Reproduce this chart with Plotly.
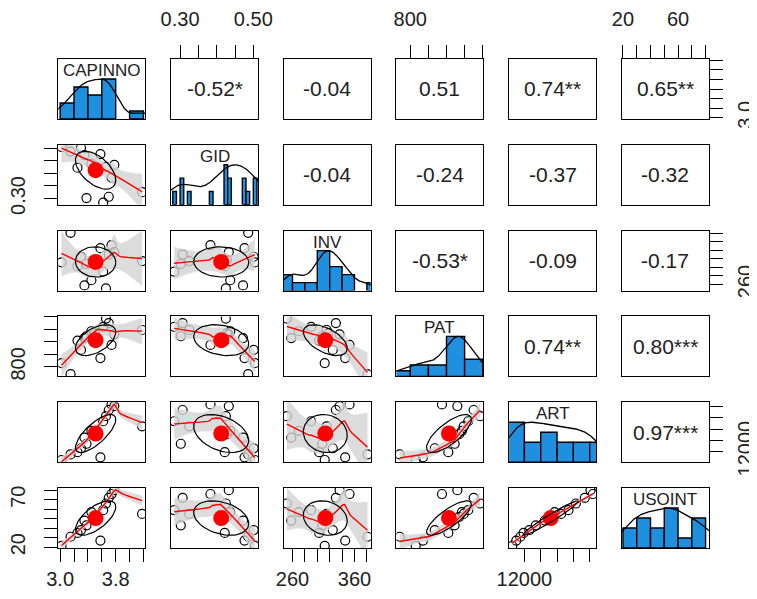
import numpy as np
import plotly.graph_objects as go

names = ["CAPINNO", "GID", "INV", "PAT", "ART", "USOINT"]
CAPINNO = [3.02, 3.58, 3.15, 3.25, 3.30, 3.38, 3.35, 3.50, 3.45, 4.18, 3.62, 3.66, 3.70, 3.78, 3.74]
GID = [0.504, 0.476, 0.486, 0.422, 0.501, 0.302, 0.472, 0.428, 0.437, 0.325, 0.284, 0.425, 0.307, 0.433, 0.383]
INV = [312, 345, 381, 303, 325, 308, 258, 318, 270, 315, 290, 251, 330, 336, 352]
PAT = [830, 870, 741, 1010, 935, 1045, 1030, 1070, 1085, 1095, 1120, 1186, 1150, 1060, 975]
ART = [10520, 11000, 11500, 11900, 12600, 13400, 14500, 15100, 15700, 16500, 17400, 18300, 19400, 20100, 20390]
USOINT = [21.5, 27, 31, 35, 38, 43, 48, 52, 57, 55, 59, 66, 72, 80, 76]

# correlations printed in the upper panels (row variable, column variable)
cor_pairs = [("CAPINNO", "GID"), ("CAPINNO", "INV"), ("CAPINNO", "PAT"), ("CAPINNO", "ART"), ("CAPINNO", "USOINT"),
             ("GID", "INV"), ("GID", "PAT"), ("GID", "ART"), ("GID", "USOINT"),
             ("INV", "PAT"), ("INV", "ART"), ("INV", "USOINT"),
             ("PAT", "ART"), ("PAT", "USOINT"),
             ("ART", "USOINT")]
cor_values = [-0.52, -0.04, 0.51, 0.74, 0.65,
              -0.04, -0.24, -0.37, -0.32,
              -0.53, -0.09, -0.17,
              0.74, 0.80,
              0.97]
cor_stars = ["*", "", "", "**", "**",
             "", "", "", "",
             "*", "", "",
             "**", "***",
             "***"]

# histogram bins and counts on the diagonal
hist_edges = {
    "CAPINNO": [3.0, 3.2, 3.4, 3.6, 3.8, 4.0, 4.2],
    "GID": [0.28, 0.29, 0.30, 0.31, 0.32, 0.33, 0.34, 0.35, 0.36, 0.37, 0.38, 0.39, 0.40,
            0.41, 0.42, 0.43, 0.44, 0.45, 0.46, 0.47, 0.48, 0.49, 0.50, 0.51],
    "INV": [240, 260, 280, 300, 320, 340, 360, 380, 400],
    "PAT": [700, 800, 900, 1000, 1100, 1200],
    "ART": [10000, 12000, 14000, 16000, 18000, 20000, 22000],
    "USOINT": [20, 30, 40, 50, 60, 70, 80],
}
hist_counts = {
    "CAPINNO": [2, 4, 3, 5, 0, 1],
    "GID": [1, 0, 2, 0, 1, 0, 0, 0, 0, 0, 1, 0, 0, 0, 3, 2, 0, 0, 0, 2, 1, 0, 2],
    "INV": [2, 1, 1, 5, 3, 2, 0, 1],
    "PAT": [1, 2, 2, 7, 3],
    "ART": [4, 2, 3, 2, 2, 2],
    "USOINT": [2, 3, 2, 4, 1, 3],
}

# axis ticks and the labels that are visible
tick_vals = {
    "CAPINNO": [3.0, 3.2, 3.4, 3.6, 3.8, 4.0, 4.2],
    "GID": [0.30, 0.35, 0.40, 0.45, 0.50],
    "INV": [260, 280, 300, 320, 340, 360, 380],
    "PAT": [800, 900, 1000, 1100, 1200],
    "ART": [12000, 14000, 16000, 18000, 20000],
    "USOINT": [20, 30, 40, 50, 60, 70, 80],
}
tick_text_h = {
    "CAPINNO": ["3.0", "", "", "", "3.8", "", ""],
    "GID": ["0.30", "", "", "", "0.50"],
    "INV": ["260", "", "", "", "", "360", ""],
    "PAT": ["800", "", "", "", ""],
    "ART": ["12000", "", "", "", ""],
    "USOINT": ["20", "", "", "", "60", "", ""],
}
tick_text_v = {
    "CAPINNO": ["3.0", "", "", "", "", "", ""],
    "GID": ["0.30", "", "", "", ""],
    "INV": ["260", "", "", "", "", "", ""],
    "PAT": ["800", "", "", "", ""],
    "ART": ["12000", "", "", "", ""],
    "USOINT": ["20", "", "", "", "", "70", ""],
}

# ---------------- helpers -------------------------------------------------
data = {"CAPINNO": CAPINNO, "GID": GID, "INV": INV, "PAT": PAT, "ART": ART, "USOINT": USOINT}
cor_lookup = {}
for (a, b), r, s in zip(cor_pairs, cor_values, cor_stars):
    cor_lookup[(a, b)] = (r, s)
    cor_lookup[(b, a)] = (r, s)


def var_range(v):
    v = np.asarray(v, float)
    lo, hi = v.min(), v.max()
    d = hi - lo
    return [lo - 0.04 * d, hi + 0.04 * d]


def loess(x, y, xnew, span=0.75, iterations=4):
    x = np.asarray(x, float)
    y = np.asarray(y, float)
    n = len(x)
    q = int(np.floor(n * span))

    def row(x0, rw):
        d = np.abs(x - x0)
        h = np.sort(d)[q - 1] * 1.0000001
        if h <= 0:
            h = 1e-9
        u = d / h
        w = np.where(u < 1, (1 - u ** 3) ** 3, 0.0) * rw
        X = np.column_stack([np.ones(n), x - x0])
        XtW = X.T * w
        A = XtW @ X + 1e-10 * np.eye(2)
        return np.linalg.solve(A, XtW)[0]

    rw = np.ones(n)
    L = None
    res = None
    for it in range(iterations):
        L = np.array([row(xi, rw) for xi in x])
        res = y - L @ y
        if it < iterations - 1:
            s = np.median(np.abs(res))
            if s <= 0:
                break
            u = res / (6 * s)
            rw = np.where(np.abs(u) < 1, (1 - u ** 2) ** 2, 0.0)
    Ln = np.array([row(x0, rw) for x0 in xnew])
    fit = Ln @ y
    dfres = max(n - np.trace(L), 1.0)
    sigma = np.sqrt(np.sum(rw * res ** 2) / dfres)
    se = sigma * np.sqrt(np.sum(Ln ** 2, axis=1))
    return fit, se


def kde(v):
    v = np.asarray(v, float)
    n = len(v)
    sd = v.std(ddof=1)
    q75, q25 = np.percentile(v, [75, 25])
    bw = 0.9 * min(sd, (q75 - q25) / 1.34) * n ** -0.2
    grid = np.linspace(v.min() - 3 * bw, v.max() + 3 * bw, 512)
    dens = np.exp(-0.5 * ((grid[:, None] - v[None, :]) / bw) ** 2).sum(1)
    return grid, dens / dens.max()


# ---------------- layout geometry ------------------------------------------
# The page body adds an 8px margin, so the figure is drawn 8px smaller and all
# screen positions are shifted by that offset.
OFF = 8
W, H = 757 - OFF, 599 - 2 * OFF
col_left = [58.3 - OFF + 112.7 * j for j in range(6)]
panel_w = 87.0
row_top = [59.0 - OFF + 85.8 * i for i in range(6)]
panel_h = 60.0

FONT = "Liberation Sans, Arial, Helvetica, sans-serif"
BLUE = "#1f8fe0"
TCONF = 2.2

fig = go.Figure()
layout = dict(width=W, height=H, margin=dict(l=0, r=0, t=0, b=0, pad=0, autoexpand=False),
              paper_bgcolor="white", plot_bgcolor="white", showlegend=False,
              template="none", font=dict(family=FONT, color="black"))
annotations = []

for i in range(6):
    for j in range(6):
        k = i * 6 + j + 1
        sx = "" if k == 1 else str(k)
        xref, yref = "x" + sx, "y" + sx
        vi, vj = names[i], names[j]
        xr = var_range(data[vj])
        yr = [0, 1.5] if i == j else var_range(data[vi])

        xdom = [col_left[j] / W, (col_left[j] + panel_w) / W]
        ydom = [1 - (row_top[i] + panel_h) / H, 1 - row_top[i] / H]

        xa = dict(domain=xdom, anchor=yref, range=xr, showgrid=False, zeroline=False,
                  showline=True, linecolor="black", linewidth=1, mirror=True, automargin=False,
                  ticks="", showticklabels=False, fixedrange=True)
        ya = dict(domain=ydom, anchor=xref, range=yr, showgrid=False, zeroline=False,
                  showline=True, linecolor="black", linewidth=1, mirror=True, automargin=False,
                  ticks="", showticklabels=False, fixedrange=True)

        tickstyle = dict(ticks="outside", ticklen=13, tickwidth=1, tickcolor="black",
                         showticklabels=True, tickfont=dict(size=20, family=FONT, color="#222"))
        if i == 0 and j % 2 == 1:
            xa.update(tickstyle, side="top", tickvals=tick_vals[vj], ticktext=tick_text_h[vj],
                      ticklabelstandoff=11)
        if i == 5 and j % 2 == 0:
            xa.update(tickstyle, side="bottom", tickvals=tick_vals[vj], ticktext=tick_text_h[vj],
                      ticklabelstandoff=0)
        if j == 0 and i % 2 == 1:
            ya.update(tickstyle, side="left", tickvals=tick_vals[vi], ticktext=tick_text_v[vi],
                      tickangle=-90, ticklabelstandoff=11)
        if j == 5 and i % 2 == 0:
            ya.update(tickstyle, side="right", tickvals=tick_vals[vi], ticktext=tick_text_v[vi],
                      tickangle=-90, ticklabelstandoff=5)

        layout["xaxis" + sx] = xa
        layout["yaxis" + sx] = ya

        if i == j:
            edges = np.asarray(hist_edges[vi], float)
            counts = np.asarray(hist_counts[vi], float)
            mids = (edges[:-1] + edges[1:]) / 2
            widths = np.diff(edges)
            keep = counts > 0
            fig.add_trace(go.Bar(x=mids[keep], y=counts[keep] / counts.max(), width=widths[keep],
                                 marker=dict(color=BLUE, line=dict(color="black", width=1.4)),
                                 xaxis=xref, yaxis=yref, hoverinfo="skip"))
            gx, gy = kde(data[vi])
            fig.add_trace(go.Scatter(x=gx, y=gy, mode="lines", line=dict(color="black", width=1.3),
                                     xaxis=xref, yaxis=yref, hoverinfo="skip"))
            annotations.append(dict(text=vi, x=0.5, y=1 - 11.5 / panel_h, xref=xref + " domain",
                                    yref=yref + " domain", showarrow=False, xanchor="center",
                                    yanchor="middle", font=dict(size=17, family=FONT, color="#222")))
        elif i < j:
            # invisible anchor so that the panel (box and axes) is drawn
            fig.add_trace(go.Scatter(x=[np.mean(xr)], y=[np.mean(yr)], mode="markers",
                                     marker=dict(size=1, opacity=0), xaxis=xref, yaxis=yref,
                                     hoverinfo="skip"))
            r, s = cor_lookup[(vi, vj)]
            annotations.append(dict(text=f"{r:.2f}" + s, x=0.5, y=0.5, xref=xref + " domain",
                                    yref=yref + " domain", showarrow=False, xanchor="center",
                                    yanchor="middle", font=dict(size=21, family=FONT, color="#222")))
        else:
            x = np.asarray(data[vj], float)
            y = np.asarray(data[vi], float)
            # points
            fig.add_trace(go.Scatter(x=x, y=y, mode="markers",
                                     marker=dict(symbol="circle-open", size=9, color="black",
                                                 line=dict(width=1.2)),
                                     xaxis=xref, yaxis=yref, hoverinfo="skip"))
            # loess with confidence band
            xs = np.linspace(x.min(), x.max(), 47)
            fit, se = loess(x, y, xs)
            up, lo = fit + TCONF * se, fit - TCONF * se
            fig.add_trace(go.Scatter(x=np.concatenate([xs, xs[::-1]]), y=np.concatenate([lo, up[::-1]]),
                                     mode="lines", fill="toself", fillcolor="rgba(211,211,211,0.8)",
                                     line=dict(width=0), xaxis=xref, yaxis=yref, hoverinfo="skip"))
            fig.add_trace(go.Scatter(x=xs, y=fit, mode="lines", line=dict(color="red", width=1.4),
                                     xaxis=xref, yaxis=yref, hoverinfo="skip"))
            # mean point and correlation ellipse
            r, _ = cor_lookup[(vi, vj)]
            xm, ym = x.mean(), y.mean()
            xsd, ysd = x.std(ddof=1), y.std(ddof=1)
            ang = np.linspace(0, 2 * np.pi, 52)
            th = (np.sign(r) if r != 0 else 1) / np.sqrt(2)
            shape = np.diag([np.sqrt(1 + r), np.sqrt(1 - r)]) @ np.array([[th, th], [-th, th]])
            el = np.column_stack([np.cos(ang), np.sin(ang)]) @ shape
            fig.add_trace(go.Scatter(x=[xm], y=[ym], mode="markers",
                                     marker=dict(color="red", size=16),
                                     xaxis=xref, yaxis=yref, hoverinfo="skip"))
            fig.add_trace(go.Scatter(x=el[:, 0] * xsd + xm, y=el[:, 1] * ysd + ym, mode="lines",
                                     line=dict(color="black", width=1.2),
                                     xaxis=xref, yaxis=yref, hoverinfo="skip"))

layout["annotations"] = annotations
fig.update_layout(**layout)
fig.write_html("out.html")
